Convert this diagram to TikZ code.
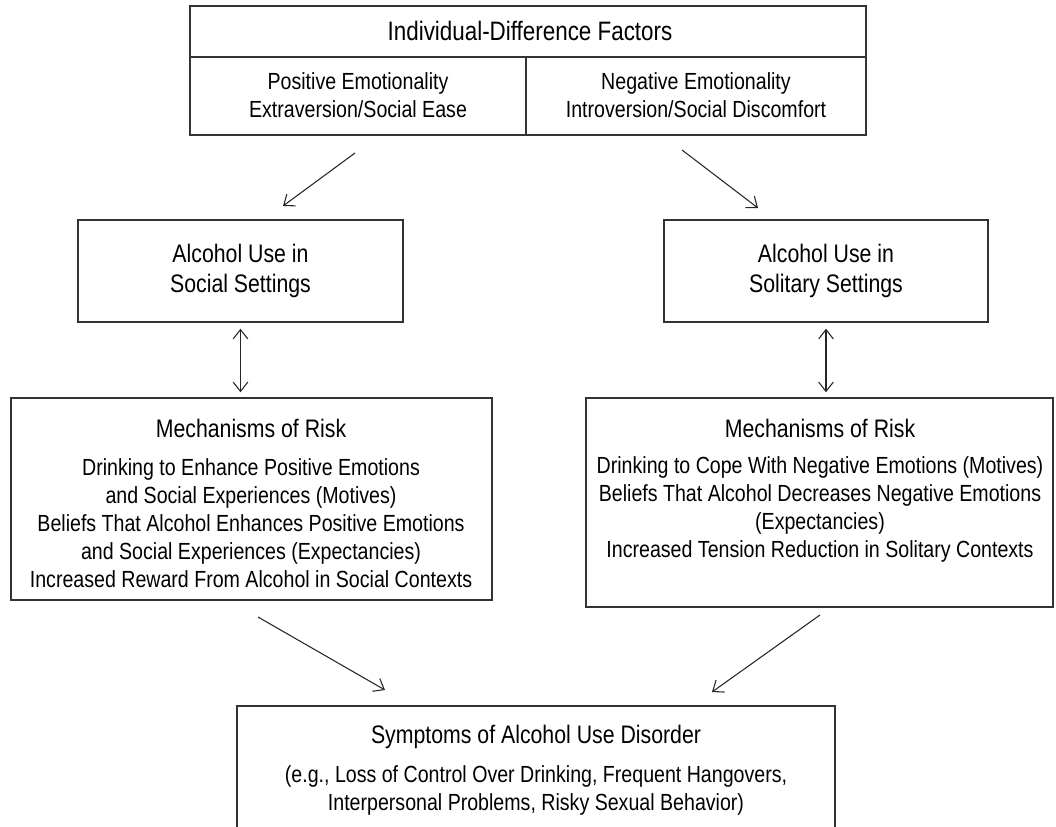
\documentclass[tikz,border=0pt]{standalone}
\usepackage{fontspec}
\setmainfont{Liberation Sans}[FakeStretch=0.84]
\usepackage{tikz}
\usetikzlibrary{positioning, calc, arrows.meta, fit}

\begin{document}
\begin{tikzpicture}[x=0.75pt, y=-0.75pt,
    box/.style={draw=black!80, line width=1.1pt, inner sep=0pt},
    ttl/.style={font=\fontsize{19}{22.5}\selectfont, align=center, inner sep=0pt},
    txt/.style={font=\fontsize{17.5}{21}\selectfont, align=center, inner sep=0pt},
    arr/.style={-{Straight Barb[length=7pt, width=11pt]}, line width=0.8pt, black!85},
    dbl/.style={{Straight Barb[length=7pt, width=11pt]}-{Straight Barb[length=7pt, width=11pt]}, line width=0.8pt, black!85}]
\useasboundingbox (0,0) rectangle (1056,827);
\clip (0,0) rectangle (1056,827);

\node[box, fit={(190,6) (866,135)}] (idf) {};
\coordinate (rowL) at (190,57);
\coordinate (rowR) at (866,57);
\coordinate (colT) at (526,57);
\coordinate (colB) at (526,135);
\draw[box] (rowL) -- (rowR);
\draw[box] (colT) -- (colB);
\node[ttl, font=\fontsize{20}{24}\selectfont] (idfTitle) at (530,31) {Individual-Difference Factors};
\node[txt] (posEmo) at (358,95) {Positive Emotionality\\Extraversion/Social Ease};
\node[txt] (negEmo) at (696,95) {Negative Emotionality\\Introversion/Social Discomfort};

\node[box, fit={(78,220) (403,322)}] (social) {};
\node[ttl] (socialText) at (social) {Alcohol Use in\\Social Settings};
\node[box, fit={(664,220) (988,322)}] (solitary) {};
\node[ttl] (solitaryText) at (solitary) {Alcohol Use in\\Solitary Settings};

\node[box, fit={(11,398) (492,600)}] (riskL) {};
\node[ttl] (riskLTitle) at (251,428) {Mechanisms of Risk};
\node[txt] (riskLText) at (251,523) {Drinking to Enhance Positive Emotions\\
    and Social Experiences (Motives)\\
    Beliefs That Alcohol Enhances Positive Emotions\\
    and Social Experiences (Expectancies)\\
    Increased Reward From Alcohol in Social Contexts};

\node[box, fit={(586,398) (1053,607)}] (riskR) {};
\node[ttl] (riskRTitle) at (820,428) {Mechanisms of Risk};
\node[txt] (riskRText) at (820,509) {Drinking to Cope With Negative Emotions (Motives)\\
    Beliefs That Alcohol Decreases Negative Emotions\\
    (Expectancies)\\
    Increased Tension Reduction in Solitary Contexts};

\node[box, fit={(237,706) (835,860)}] (aud) {};
\node[ttl] (audTitle) at (536,737) {Symptoms of Alcohol Use Disorder};
\node[txt] (audText) at (536,790) {(e.g., Loss of Control Over Drinking, Frequent Hangovers,\\
    Interpersonal Problems, Risky Sexual Behavior)};

\coordinate (posFrom) at (355,153);
\coordinate (posTo) at (283,206);
\coordinate (negFrom) at (682,150);
\coordinate (negTo) at (758,208);
\draw[arr] (posFrom) -- (posTo);
\draw[arr] (negFrom) -- (negTo);

\draw[dbl, shorten <=4.5pt, shorten >=3.75pt] (social.south) -- (social.south |- riskL.north);
\draw[dbl, shorten <=4.5pt, shorten >=3.75pt] (solitary.south) -- (solitary.south |- riskR.north);

\coordinate (riskLFrom) at (258,617);
\coordinate (riskLTo) at (385,690);
\coordinate (riskRFrom) at (820,615);
\coordinate (riskRTo) at (712,692);
\draw[arr] (riskLFrom) -- (riskLTo);
\draw[arr] (riskRFrom) -- (riskRTo);
\end{tikzpicture}
\end{document}
